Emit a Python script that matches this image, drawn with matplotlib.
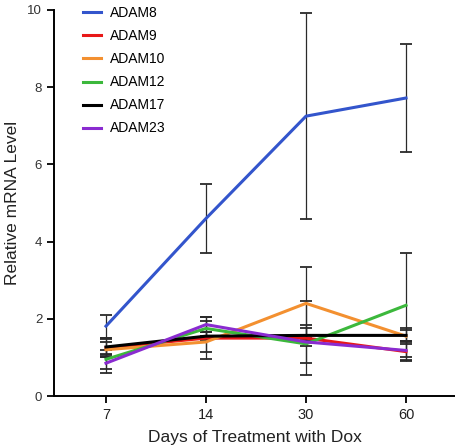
import matplotlib
matplotlib.use('Agg')
import matplotlib.pyplot as plt

days = ['7', '14', '30', '60']
genes = ['ADAM8', 'ADAM9', 'ADAM10', 'ADAM12', 'ADAM17', 'ADAM23']
colors = ['#3355cc', '#e81818', '#f39030', '#3cb83c', '#000000', '#8a2bd0']

adam8 = [1.81, 4.6, 7.25, 7.72]
adam9 = [1.25, 1.5, 1.5, 1.15]
adam10 = [1.2, 1.4, 2.4, 1.55]
adam12 = [0.95, 1.75, 1.35, 2.35]
adam17 = [1.27, 1.55, 1.57, 1.57]
adam23 = [0.85, 1.85, 1.4, 1.18]

err8 = [0.3, 0.9, 2.67, 1.4]
err9 = [0.25, 0.55, 0.95, 0.25]
err10 = [0.2, 0.25, 0.95, 0.2]
err12 = [0.25, 0.2, 0.5, 1.35]
err17 = [0.2, 0.1, 0.2, 0.15]
err23 = [0.25, 0.2, 0.1, 0.25]

series = [adam8, adam9, adam10, adam12, adam17, adam23]
errors = [err8, err9, err10, err12, err17, err23]

plt.rcParams['font.family'] = ['Liberation Sans', 'DejaVu Sans']
fig = plt.figure(figsize=(4.56, 4.48), dpi=100)
ax = fig.add_axes([54/456, 52/448, 401/456, 386/448])

x = list(range(len(days)))
for vals, err in zip(series, errors):
    ax.errorbar(x, vals, yerr=err, fmt='none', ecolor='#2a2a2a', elinewidth=0.9,
                capsize=4.5, capthick=1.3, zorder=1)
for name, vals, c in zip(genes, series, colors):
    ax.plot(x, vals, color=c, lw=2.2, label=name, zorder=2)

ax.set_xlim(-0.52, 3.49)
ax.set_ylim(0, 10)
ax.set_xticks(x)
ax.set_xticklabels(days, fontsize=10.5, color='#222222')
ax.set_yticks([0, 2, 4, 6, 8, 10])
ax.tick_params(axis='y', labelsize=9.5, labelcolor='#333333', length=5, width=1.3)
ax.tick_params(axis='x', length=5, width=1.3)
for s in ['top', 'right']:
    ax.spines[s].set_visible(False)
for s in ['left', 'bottom']:
    ax.spines[s].set_linewidth(1.4)
ax.set_xlabel('Days of Treatment with Dox', fontsize=12.5, color='#222222', labelpad=6)
ax.set_ylabel('Relative mRNA Level', fontsize=12.5, color='#222222', labelpad=5)

ax.legend(loc='upper left', bbox_to_anchor=(0.04, 1.042), frameon=False, fontsize=10,
          handlelength=1.3, labelspacing=0.65, handletextpad=0.7)

fig.savefig('out.png', dpi=100)
